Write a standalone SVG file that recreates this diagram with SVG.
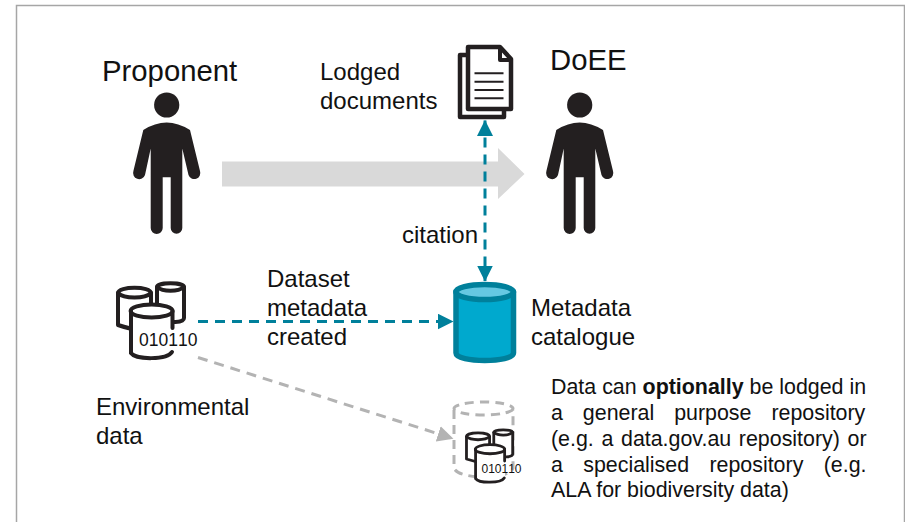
<svg xmlns="http://www.w3.org/2000/svg" width="905" height="522" viewBox="0 0 905 522">
<style>
text{font-family:"Liberation Sans",Arial,sans-serif;fill:#111}
.h{font-size:29.300px}.m{font-size:24px}.s{font-size:21.400px}
.cyl{fill:#fff;stroke:#231f20;stroke-width:4;stroke-linecap:round;stroke-linejoin:round}
.open{fill:none;stroke:#231f20;stroke-width:4;stroke-linecap:round}
.teal{fill:none;stroke:#00809b;stroke-width:3;stroke-dasharray:10 7}
.grey{fill:none;stroke:#b3b3b3;stroke-width:3;stroke-dasharray:10 7}
</style>
<defs>
<g id="person"><circle cx="166.7" cy="105" r="12.6" fill="#231f20"/>
<path fill="#231f20" d="M143.3 130Q155 122.5 166.7 122.5Q178 122.5 190 130L200 171A6 6 0 0 1 188.5 175L182.3 148.5V228A5.8 5.8 0 0 1 170.7 228V177.3H162.7V228A6 6 0 0 1 150.7 228V148.5L145 175A6 6 0 0 1 133.4 171Z"/></g>
<g id="db">
<path class="cyl" d="M118 293C118 286 151 286 151 293V327C151 331 135 331 118 325Z"/>
<path class="cyl" d="M157 287C157 282 184 282 184 287V318C184 323 170 323 157 320Z"/>
<path class="cyl" d="M118 293C124 299 145 299 151 293" style="fill:none"/>
<path class="cyl" d="M157 287C163 292 178 292 184 287" style="fill:none"/>
<path d="M131 312V353C135 360 168 360 173 353V312Z" fill="#fff"/>
<ellipse class="cyl" cx="151.6" cy="311" rx="21" ry="6.5"/>
<path class="open" d="M131 311V353C136 360 167 360 172 352M172.500 311V328"/>
</g>
<marker id="ta" viewBox="0 0 16 16" refX="15.500" refY="8" markerWidth="16" markerHeight="16" markerUnits="userSpaceOnUse" orient="auto-start-reverse"><path d="M0 0L16 8L0 16Z" fill="#00809b"/></marker>
<marker id="ga" viewBox="0 0 16 16" refX="15.500" refY="8" markerWidth="16" markerHeight="16" markerUnits="userSpaceOnUse" orient="auto"><path d="M0 0L16 8L0 16Z" fill="#b3b3b3"/></marker>
</defs>
<rect width="905" height="522" fill="#fff"/>
<path d="M16.500 522V5.500H904.500V522" fill="none" stroke="#a6a6a6" stroke-width="1.500"/>
<path id="flow-arrow" d="M222 161.500H498V148L524.500 174L498 199V186.500H222Z" fill="#d9d9d9"/>
<g id="connectors">
<path class="teal" d="M485 120.500V281" marker-start="url(#ta)" marker-end="url(#ta)"/>
<path class="teal" d="M198 321.500H453" marker-end="url(#ta)"/>
<path class="grey" d="M198 357.500L453 438.500" marker-end="url(#ga)"/>
</g>
<g id="proponent"><use href="#person"/><text class="h" x="102" y="81">Proponent</text></g>
<g id="doee"><use href="#person" x="413"/><text class="h" x="550" y="70">DoEE</text></g>
<g id="documents">
<path d="M466 55H460V117H504V110" fill="none" stroke="#231f20" stroke-width="4.500" stroke-linejoin="round"/>
<path d="M468 47H500L511 59V109H468Z" fill="#fff" stroke="#231f20" stroke-width="4.500" stroke-linejoin="round"/>
<path d="M500 47V60H511" fill="none" stroke="#231f20" stroke-width="4" stroke-linejoin="round"/>
<path d="M474.500 73.300H503.500M474.500 81.700H503.500M474.500 90H503.500M474.500 98.300H503.500" stroke="#231f20" stroke-width="2"/>
<text class="m" x="320" y="80">Lodged</text><text class="m" x="320" y="109">documents</text>
</g>
<text id="citation" class="m" x="402" y="243">citation</text>
<g id="environmental-data"><use href="#db"/><text x="139" y="346" style="font-size:17.500px;font-kerning:none">010110</text>
<text class="m" x="96" y="415">Environmental</text><text class="m" x="96" y="444">data</text></g>
<g id="dataset-label"><text class="m" x="267" y="287">Dataset</text><text class="m" x="267" y="316">metadata</text><text class="m" x="267" y="345">created</text></g>
<g id="metadata-catalogue">
<path d="M456 292V353C456 363 513.500 363 513.500 353V292Z" fill="#00a9ce" stroke="#00809b" stroke-width="5.500" stroke-linejoin="round"/>
<ellipse cx="484.700" cy="292" rx="28.800" ry="7.500" fill="#66c8e2" stroke="#00809b" stroke-width="5.500"/>
<text class="m" x="531" y="316">Metadata</text><text class="m" x="531" y="345">catalogue</text>
</g>
<g id="repository">
<path d="M454 410V468C458 480 510 480 513 468V410" fill="none" stroke="#b3b3b3" stroke-width="3" stroke-dasharray="9 6"/>
<ellipse cx="483.500" cy="408.500" rx="29.500" ry="6.500" fill="none" stroke="#b3b3b3" stroke-width="3" stroke-dasharray="9 6"/>
<use href="#db" transform="translate(490 445) scale(.7) translate(-151.600 -305)"/>
<text x="481.500" y="473" style="font-size:12px;font-kerning:none">010110</text>
</g>
<g id="note">
<text class="s" x="551" y="394">Data can <tspan font-weight="bold">optionally</tspan> be lodged in</text>
<text class="s" x="551" y="420" style="word-spacing:14px">a general purpose repository</text>
<text class="s" x="551" y="446" style="word-spacing:1.700px">(e.g. a data.gov.au repository) or</text>
<text class="s" x="551" y="472" style="word-spacing:14.400px">a specialised repository (e.g.</text>
<text class="s" x="551" y="497">ALA for biodiversity data)</text>
</g>
</svg>
